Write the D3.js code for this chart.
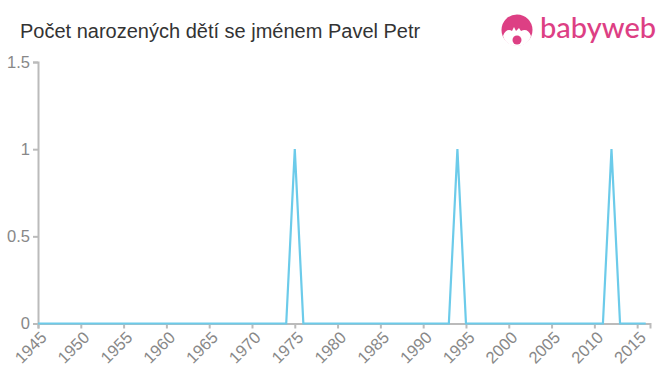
<!DOCTYPE html>
<html><head><meta charset="utf-8">
<script src="https://cdn.jsdelivr.net/npm/d3@7"></script>
<style>body{margin:0;background:#fff}svg{display:block;font-family:"Liberation Sans",Arial,sans-serif}</style>
</head><body><svg id="c" width="660" height="375"></svg>
<script>
const title = "Počet narozených dětí se jménem Pavel Petr";
const years = d3.range(1945, 2017);
const peakYears = [1975, 1994, 2012];
const values = years.map(y => peakYears.includes(y) ? 1 : 0);
const xTicks = [1945,1950,1955,1960,1965,1970,1975,1980,1985,1990,1995,2000,2005,2010,2015];
const yTicks = [0, 0.5, 1, 1.5];

const svg = d3.select("#c");
const x = d3.scaleLinear().domain([1945, 2016.5]).range([38, 650]);
const y = d3.scaleLinear().domain([0, 1.5]).range([323.5, 62]);

svg.append("text").attr("x", 20).attr("y", 38).attr("fill", "#333")
  .style("font-size", "20px").text(title);

// axes
const gx = svg.append("g").attr("transform", "translate(0,323.5)")
  .call(d3.axisBottom(x).tickValues(xTicks).tickFormat(d3.format("d")).tickSize(5).tickPadding(4));
gx.selectAll("text").attr("transform", "rotate(-45)").style("text-anchor", "end")
  .attr("dx", "-0.25em").attr("dy", "0.5em");
const gy = svg.append("g").attr("transform", "translate(38,0)")
  .call(d3.axisLeft(y).tickValues(yTicks).tickFormat(d => d).tickSize(5).tickPadding(3));
[gx, gy].forEach(g => {
  g.select(".domain").attr("stroke", "#bbb").attr("stroke-width", 2);
  g.selectAll(".tick line").attr("stroke", "#bbb").attr("stroke-width", 2);
  g.selectAll("text").attr("fill", "#888").style("font-size", "16.5px").style("font-family", "Liberation Sans, Arial, sans-serif");
});

// line
svg.append("path").datum(years.map((yr, i) => [yr, values[i]]))
  .attr("fill", "none").attr("stroke", "#6ccbea").attr("stroke-width", 2.2)
  .attr("d", d3.line().x(d => x(d[0])).y(d => y(d[1])));

// logo
const lg = svg.append("g");
lg.append("circle").attr("cx", 517).attr("cy", 30).attr("r", 15.5).attr("fill", "#dd3f84");
lg.append("path").attr("fill", "#fff")
  .attr("d", "M503,36 C505,30 509,29 512,31 L514,27 L516,31 L519,28 L521,31 C525,29 529,30 531,36 C529,43 523,46 517,46 C511,46 505,43 503,36 Z");
lg.append("circle").attr("cx", 517).attr("cy", 40).attr("r", 4.5).attr("fill", "#dd3f84");
lg.append("text").attr("x", 540).attr("y", 38).attr("fill", "#dd3f84")
  .style("font-size", "29px").style("font-family", "Lato, 'Open Sans', sans-serif").style("font-weight", "500")
  .text("babyweb");
</script></body></html>
